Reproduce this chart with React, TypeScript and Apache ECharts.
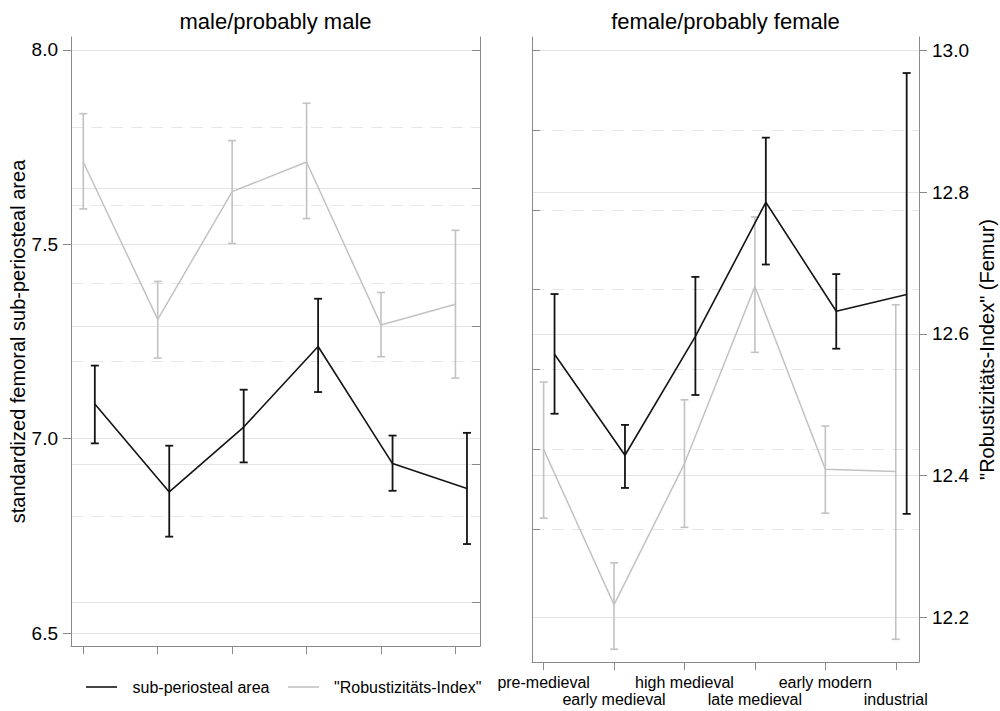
import React, { useEffect, useRef } from 'react';
import * as echarts from 'echarts';

// Periods along the x axis (positions 1..6)
const periods = ['pre-medieval', 'early medieval', 'high medieval', 'late medieval', 'early modern', 'industrial'];
const periodPos = [1, 2, 3, 4, 5, 6];

// Male / probably male
const maleArea = [7.089, 6.863, 7.030, 7.237, 6.936, 6.872];
const maleAreaLow = [6.988, 6.748, 6.939, 7.120, 6.866, 6.729];
const maleAreaHigh = [7.188, 6.982, 7.126, 7.360, 7.008, 7.015];
const maleIndex = [12.838, 12.610, 12.795, 12.838, 12.602, 12.632];
const maleIndexLow = [12.770, 12.554, 12.720, 12.756, 12.556, 12.525];
const maleIndexHigh = [12.908, 12.665, 12.869, 12.923, 12.649, 12.739];

// Female / probably female
const femaleArea = [7.238, 6.985, 7.283, 7.619, 7.346, 7.388];
const femaleAreaLow = [7.089, 6.903, 7.136, 7.463, 7.252, 6.838];
const femaleAreaHigh = [7.389, 7.061, 7.432, 7.781, 7.439, 7.943];
const femaleIndex = [12.437, 12.218, 12.417, 12.667, 12.409, 12.406];
const femaleIndexLow = [12.340, 12.155, 12.327, 12.574, 12.347, 12.169];
const femaleIndexHigh = [12.532, 12.277, 12.507, 12.765, 12.470, 12.641];

// Axis ticks
const areaLabels = [6.5, 7.0, 7.5, 8.0];
const areaMinorTicks = [6.8, 7.0, 7.2, 7.4, 7.6, 7.8, 8.0];
const indexTicks = [12.2, 12.4, 12.6, 12.8, 13.0];

const AREA_RANGE = [6.4667, 8.0333];
const INDEX_RANGE = [12.137, 13.019];
const X_RANGE = [0.835, 6.33];
const AREA_SHIFT = 0.155; // sub-periosteal area marks sit slightly right of the tick

const FONT = '"Liberation Sans", Arial, Helvetica, sans-serif';
const AXIS_GREY = '#8a8a8a';
const GRID_SOLID = '#e4e4e4';
const GRID_DASH = '#e6e6e6';
const BLACK = '#141414';
const GREY = '#c2c2c2';

function errorBars(color: string, width: number, cap: number) {
  return (_params: any, api: any) => {
    const x = api.value(0);
    const lo = api.coord([x, api.value(1)]);
    const hi = api.coord([x, api.value(2)]);
    const h = cap / 2;
    const style = { stroke: color, lineWidth: width };
    return {
      type: 'group',
      children: [
        { type: 'line', shape: { x1: lo[0], y1: lo[1], x2: hi[0], y2: hi[1] }, style },
        { type: 'line', shape: { x1: lo[0] - h, y1: lo[1], x2: lo[0] + h, y2: lo[1] }, style },
        { type: 'line', shape: { x1: hi[0] - h, y1: hi[1], x2: hi[0] + h, y2: hi[1] }, style },
      ],
    };
  };
}

function lineSeries(xi: number, yi: number, values: number[], shift: number, color: string, width: number) {
  return {
    type: 'line',
    xAxisIndex: xi,
    yAxisIndex: yi,
    data: periodPos.map((p, i) => [p + shift, values[i]]),
    symbol: 'none',
    lineStyle: { color, width },
    itemStyle: { color },
    z: color === BLACK ? 4 : 3,
  };
}

function barSeries(xi: number, yi: number, low: number[], high: number[], shift: number, color: string, width: number) {
  return {
    type: 'custom',
    xAxisIndex: xi,
    yAxisIndex: yi,
    data: periodPos.map((p, i) => [p + shift, low[i], high[i]]),
    encode: { x: 0, y: [1, 2] },
    renderItem: errorBars(color, width, 8),
    z: color === BLACK ? 4 : 3,
  };
}

// x axis; labelled positions can be limited to one of the two staggered rows
function xAxis(gridIndex: number, opts: { line: boolean; labelPos?: number[]; margin?: number }) {
  return {
    type: 'value',
    gridIndex,
    position: 'bottom',
    min: X_RANGE[0],
    max: X_RANGE[1],
    axisLine: { show: opts.line, onZero: false, lineStyle: { color: AXIS_GREY, width: 1 } },
    axisTick: { show: opts.line, customValues: periodPos, length: 8, lineStyle: { color: AXIS_GREY } },
    axisLabel: {
      show: !!opts.labelPos,
      customValues: opts.labelPos || periodPos,
      showMinLabel: true,
      showMaxLabel: true,
      formatter: (v: number) => periods[Math.round(v) - 1],
      fontSize: 16,
      margin: opts.margin ?? 12,
      color: '#000',
      fontFamily: FONT,
    },
    splitLine: { show: false },
  };
}

function yAxis(opts: {
  gridIndex: number;
  position: 'left' | 'right';
  range: number[];
  ticks: number[];
  inside: boolean;
  showLine: boolean;
  showTicks: boolean;
  labels?: boolean;
  dashed?: boolean;
  name?: string;
  nameGap?: number;
}) {
  return {
    type: 'value',
    gridIndex: opts.gridIndex,
    position: opts.position,
    min: opts.range[0],
    max: opts.range[1],
    name: opts.name,
    nameLocation: 'middle',
    nameGap: opts.nameGap,
    nameRotate: 90,
    nameTextStyle: { fontSize: 20, color: '#000', fontFamily: FONT },
    axisLine: { show: opts.showLine, onZero: false, lineStyle: { color: AXIS_GREY, width: 1 } },
    axisTick: {
      show: opts.showTicks,
      inside: opts.inside,
      customValues: opts.ticks,
      length: 8,
      lineStyle: { color: AXIS_GREY },
    },
    axisLabel: {
      show: !!opts.labels,
      customValues: opts.ticks,
      showMinLabel: true,
      showMaxLabel: true,
      formatter: (v: number) => v.toFixed(1),
      fontSize: 19,
      margin: 13,
      color: '#000',
      fontFamily: FONT,
    },
    splitLine: {
      show: true,
      lineStyle: opts.dashed
        ? { color: GRID_DASH, width: 1, type: [12, 8] }
        : { color: GRID_SOLID, width: 1 },
    },
  };
}

export default function App() {
  const ref = useRef<HTMLDivElement>(null);

  useEffect(() => {
    if (!ref.current) return;
    const chart = echarts.init(ref.current, undefined, { renderer: 'svg' });

    const oddPos = periodPos.filter((_, i) => i % 2 === 0);
    const evenPos = periodPos.filter((_, i) => i % 2 === 1);

    const option = {
      animation: false,
      backgroundColor: '#ffffff',
      textStyle: { fontFamily: FONT },
      grid: [
        { left: 71, top: 37, width: 409, height: 609, containLabel: false, outerBoundsMode: 'none' },
        { left: 532, top: 37, width: 387, height: 625, containLabel: false, outerBoundsMode: 'none' },
      ],
      xAxis: [
        xAxis(0, { line: true }),
        xAxis(1, { line: true, labelPos: oddPos, margin: 12 }),
        xAxis(1, { line: false, labelPos: evenPos, margin: 29 }),
      ],
      yAxis: [
        // left panel
        yAxis({
          gridIndex: 0, position: 'left', range: AREA_RANGE, ticks: areaLabels,
          inside: false, showLine: true, showTicks: true, labels: true,
          name: 'standardized femoral sub-periosteal area', nameGap: 40,
        }),
        yAxis({
          gridIndex: 0, position: 'left', range: AREA_RANGE, ticks: areaMinorTicks.filter((v) => v !== 8.0 && v !== 7.0),
          inside: false, showLine: false, showTicks: false, dashed: true,
        }),
        yAxis({
          gridIndex: 0, position: 'right', range: INDEX_RANGE, ticks: indexTicks,
          inside: true, showLine: true, showTicks: true,
        }),
        // right panel
        yAxis({
          gridIndex: 1, position: 'left', range: AREA_RANGE, ticks: areaMinorTicks,
          inside: true, showLine: true, showTicks: true, dashed: true,
        }),
        yAxis({
          gridIndex: 1, position: 'right', range: INDEX_RANGE, ticks: indexTicks,
          inside: false, showLine: true, showTicks: true, labels: true,
          name: '"Robustizitäts-Index" (Femur)', nameGap: 58,
        }),
      ],
      series: [
        lineSeries(0, 2, maleIndex, 0, GREY, 1.5),
        barSeries(0, 2, maleIndexLow, maleIndexHigh, 0, GREY, 1.6),
        lineSeries(0, 0, maleArea, AREA_SHIFT, BLACK, 1.6),
        barSeries(0, 0, maleAreaLow, maleAreaHigh, AREA_SHIFT, BLACK, 1.8),
        lineSeries(1, 4, femaleIndex, 0, GREY, 1.5),
        barSeries(1, 4, femaleIndexLow, femaleIndexHigh, 0, GREY, 1.6),
        lineSeries(1, 3, femaleArea, AREA_SHIFT, BLACK, 1.6),
        barSeries(1, 3, femaleAreaLow, femaleAreaHigh, AREA_SHIFT, BLACK, 1.8),
      ],
      graphic: [
        {
          type: 'text', x: 275.5, y: 21,
          style: { text: 'male/probably male', font: `22px ${FONT}`, fill: '#000', textAlign: 'center', textVerticalAlign: 'middle' },
        },
        {
          type: 'text', x: 725.5, y: 21,
          style: { text: 'female/probably female', font: `22px ${FONT}`, fill: '#000', textAlign: 'center', textVerticalAlign: 'middle' },
        },
        { type: 'line', shape: { x1: 86, y1: 687, x2: 117, y2: 687 }, style: { stroke: BLACK, lineWidth: 1.6 } },
        {
          type: 'text', x: 132.5, y: 687,
          style: { text: 'sub-periosteal area', font: `16px ${FONT}`, fill: '#000', textAlign: 'left', textVerticalAlign: 'middle' },
        },
        { type: 'line', shape: { x1: 288, y1: 687, x2: 319, y2: 687 }, style: { stroke: GREY, lineWidth: 1.6 } },
        {
          type: 'text', x: 334, y: 687,
          style: { text: '"Robustizitäts-Index"', font: `16px ${FONT}`, fill: '#000', textAlign: 'left', textVerticalAlign: 'middle' },
        },
      ],
    };

    chart.setOption(option as any);
    return () => chart.dispose();
  }, []);

  return (
    <div
      ref={ref}
      style={{ position: 'fixed', left: 0, top: 0, width: 1000, height: 711, background: '#fff' }}
    />
  );
}
